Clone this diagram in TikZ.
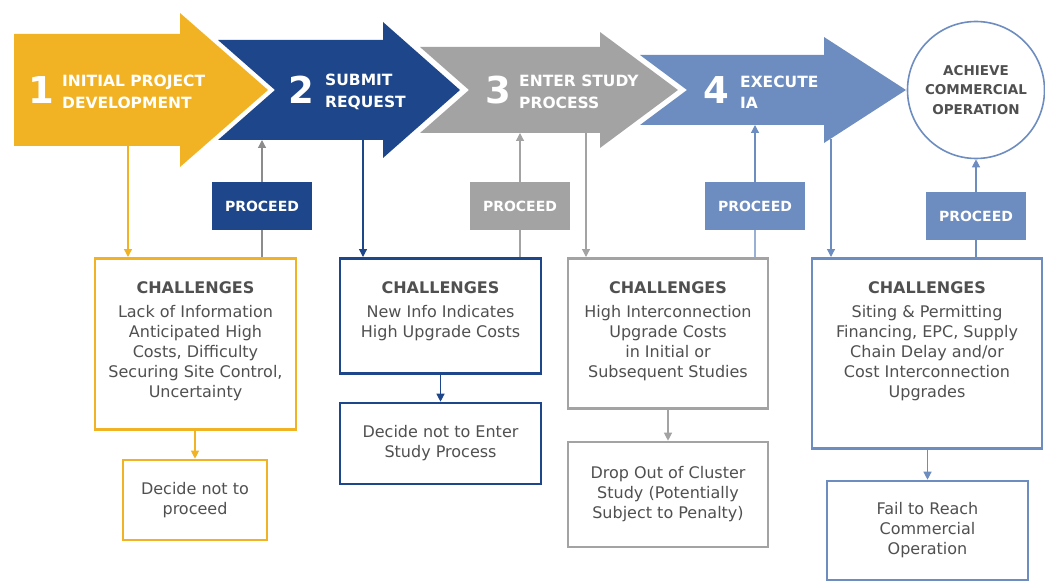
\documentclass[tikz,border=0pt]{standalone}
\usepackage{fontspec}
\setmainfont{DejaVu Sans}
\usetikzlibrary{positioning, arrows.meta}

\definecolor{stepone}{RGB}{241,178,36}
\definecolor{steptwo}{RGB}{30,70,138}
\definecolor{stepthree}{RGB}{163,163,163}
\definecolor{stepfour}{RGB}{109,140,192}
\definecolor{linkgray}{RGB}{140,140,140}
\definecolor{inkgray}{RGB}{80,80,80}

\tikzset {
    >={Triangle[length=8pt, width=8pt]},
    stagenum/.style={text=white, inner sep=0pt, font=\bfseries\fontsize{37}{37}\selectfont},
    stagetext/.style={text=white, inner sep=0pt, anchor=west, align=left,
        font=\bfseries\fontsize{15.5}{21.5}\selectfont},
    proceed/.style={fill=#1, text=white, inner sep=0pt, minimum width=100pt,
        minimum height=47pt, font=\bfseries\fontsize{14}{16}\selectfont},
    challenge/.style={draw=#1, fill=white, line width=2.6pt, anchor=north, inner sep=0pt},
    chaltext/.style={text=inkgray, inner sep=0pt, align=center, anchor=north,
        font=\fontsize{16}{20}\selectfont},
    outcome/.style={draw=#1, fill=white, line width=2.6pt, inner sep=0pt, align=center,
        text=inkgray, font=\fontsize{16}{20}\selectfont},
    link/.style={draw=#1, line width=1.2pt, ->},
    wire/.style={draw=#1, line width=1.2pt}
}

\begin{document}
\begin{tikzpicture}[x=1pt, y=-1pt]

\useasboundingbox (0,0) rectangle (1045,583);

% the four stages, drawn back to front
\fill[stepone] (14,34) -- (180,34) -- (180,13) -- (268,90) -- (180,167)
    -- (180,146) -- (14,146) -- cycle;
\fill[steptwo] (218,40) -- (383,40) -- (383,22) -- (460,90) -- (383,158)
    -- (383,140) -- (218,140) -- (275,90) -- cycle;
\fill[stepthree] (420,47) -- (600,47) -- (600,32) -- (678,90) -- (600,148)
    -- (600,133) -- (420,133) -- (469,90) -- cycle;
\fill[stepfour] (640,55) -- (824,55) -- (824,37) -- (906,90) -- (824,143)
    -- (824,125) -- (640,125) -- (687,90) -- cycle;

\coordinate (s1out) at (128,146);
\coordinate (s2in) at (262,140);
\coordinate (s2out) at (363,140);
\coordinate (s3in) at (520,133);
\coordinate (s3out) at (586,133);
\coordinate (s4in) at (755,125);
\coordinate (s4out) at (831,139);

\node[stagenum] (n1) at (41,90) {1};
\node[stagetext] (t1) at (62,92) {INITIAL PROJECT\\DEVELOPMENT};
\node[stagenum] (n2) at (301,90) {2};
\node[stagetext] (t2) at (325,92) {SUBMIT\\REQUEST};
\node[stagenum] (n3) at (498,90) {3};
\node[stagetext] (t3) at (519,92) {ENTER STUDY\\PROCESS};
\node[stagenum] (n4) at (716,90) {4};
\node[stagetext] (t4) at (740,92) {EXECUTE\\IA};

\node[circle, draw=stepfour, line width=1.6pt, minimum size=137pt, inner sep=0pt,
    text=inkgray, align=center, font=\bfseries\fontsize{13.5}{19.5}\selectfont]
    (goal) at (976,90) {ACHIEVE\\COMMERCIAL\\OPERATION};

% challenges under each stage
\node[challenge=stepone, minimum width=201pt, minimum height=171pt] (c1) at (195.5,257) {};
\node[challenge=steptwo, minimum width=201pt, minimum height=115pt] (c2) at (440.5,257) {};
\node[challenge=stepthree, minimum width=200pt, minimum height=150pt] (c3) at (668,257) {};
\node[challenge=stepfour, minimum width=230pt, minimum height=190pt] (c4) at (927,257) {};

\node[chaltext, below=24pt of c1.north] (c1t) {\textbf{CHALLENGES}\\[4pt]
    Lack of Information\\Anticipated High\\Costs, Difficulty\\
    Securing Site Control,\\Uncertainty};
\node[chaltext, below=24pt of c2.north] (c2t) {\textbf{CHALLENGES}\\[4pt]
    New Info Indicates\\High Upgrade Costs};
\node[chaltext, below=24pt of c3.north] (c3t) {\textbf{CHALLENGES}\\[4pt]
    High Interconnection\\Upgrade Costs\\in Initial or\\Subsequent Studies};
\node[chaltext, below=24pt of c4.north] (c4t) {\textbf{CHALLENGES}\\[4pt]
    Siting \& Permitting\\Financing, EPC, Supply\\Chain Delay and/or\\
    Cost Interconnection\\Upgrades};

% where each path drops out
\node[outcome=stepone, minimum width=144pt, minimum height=80pt] (o1) at (195,500)
    {Decide not to\\proceed};
\node[outcome=steptwo, minimum width=201pt, minimum height=81pt] (o2) at (440.5,443.5)
    {Decide not to Enter\\Study Process};
\node[outcome=stepthree, minimum width=200pt, minimum height=105pt] (o3) at (668,494.5)
    {Drop Out of Cluster\\Study (Potentially\\Subject to Penalty)};
\node[outcome=stepfour, minimum width=201pt, minimum height=99pt] (o4) at (927.5,530.5)
    {Fail to Reach\\Commercial\\Operation};

\node[proceed=steptwo] (p1) at (262,206) {PROCEED};
\node[proceed=stepthree] (p2) at (520,206) {PROCEED};
\node[proceed=stepfour] (p3) at (755,206) {PROCEED};
\node[proceed=stepfour] (p4) at (976,216) {PROCEED};

% down into the challenges
\draw[link=stepone] (s1out) -- (s1out |- c1.north);
\draw[link=steptwo] (s2out) -- (s2out |- c2.north);
\draw[link=stepthree] (s3out) -- (s3out |- c3.north);
\draw[link=stepfour] (s4out) -- (s4out |- c4.north);

% up to the next stage
\draw[wire=linkgray] (c1.north -| p1) -- (p1.south);
\draw[link=linkgray] (p1.north) -- (s2in);
\draw[wire=stepthree] (c2.north -| p2) -- (p2.south);
\draw[link=stepthree] (p2.north) -- (s3in);
\draw[wire=stepfour!70] (c3.north -| p3) -- (p3.south);
\draw[link=stepfour] (p3.north) -- (s4in);
\draw[wire=stepfour] (c4.north -| p4) -- (p4.south);
\draw[link=stepfour] (p4.north) -- (goal.south);

% out to the drop-outs
\draw[link=stepone] (c1.south -| o1) -- (o1.north);
\draw[link=steptwo] (c2.south -| o2) -- (o2.north);
\draw[link=stepthree] (c3.south -| o3) -- (o3.north);
\draw[link=stepfour] (c4.south -| o4) -- (o4.north);

\end{tikzpicture}
\end{document}
